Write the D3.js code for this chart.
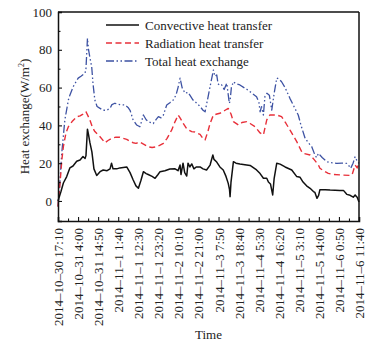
<!DOCTYPE html>
<html>
<head>
<meta charset="utf-8">
<script src="https://cdn.jsdelivr.net/npm/d3@7"></script>
<style>
  body { margin: 0; background: #fff; }
  svg text { font-family: "Liberation Serif", "Times New Roman", Tinos, "Noto Serif", "DejaVu Serif", serif; fill: #222; }
</style>
</head>
<body>
<svg id="chart"></svg>
<script>
// hours since 2014-10-30 17:10, values in W/m2
const convHours = [0,1.6,2.9,4.7,6.4,8.1,10.1,11.9,13.5,14.6,15.1,15.9,16.5,17.2,18.3,19.4,20.9,22.7,24.4,26.5,28.1,28.9,29.7,31.7,33.4,37.1,38.9,40.6,42.1,43.4,44.8,46.1,47.6,48.7,50.8,52.4,54.0,55.1,57.7,60.4,63.2,64.8,65.9,66.4,67.5,68.4,69.5,70.2,71.2,72.2,73.4,74.6,76.7,78.3,80.2,82.1,83.6,84.2,85.7,87.4,89.2,90.7,91.9,92.6,92.9,93.4,94.7,96.1,98.2,100.9,103.7,107.2,109.1,110.9,112.7,113.6,114.7,115.9,116.7,118.1,119.9,122.6,126.2,128.9,130.7,132.3,134.2,136.1,137.9,138.7,139.8,140.7,141.4,144.2,146.9,152.2,154.1,155.9,157.7,159.4,160.4,161.5,162.5];
const convValues = [0,5,9.5,12.9,17.5,18.5,21,21.7,23.5,22.5,24,38,35,31,26,17,13.5,15.5,16.4,16,17,20,17,17,17.5,18,15,11.1,8,6.7,11,15.5,14.5,14,13,12,14,15.5,16,16.9,17,16,19,14,20,15,13.2,20,18,19.6,17,18,18,17,16.4,19,24.3,22,20.6,18,16.4,13,9.3,6,2.3,10,20.8,20,19.6,19.2,18.8,16.4,14.5,12,12,10,9,3.2,12,20,19.5,18,16.4,12.9,12.5,10,8,6.7,5,4.5,1.4,3,6,6,5.8,5.6,5.6,3.5,3,2,3.2,2,-0.5];

const radHours = [0,1.1,2.1,2.9,4.3,5.6,7.6,10.1,11.9,13.5,15.1,16.2,17.2,18.6,19.9,22.7,25.4,27.0,29.0,31.3,33.4,37.1,38.9,40.6,42.1,44.2,46.4,48.7,50.8,53.2,55.1,56.9,58.8,61.4,63.2,64.9,65.9,67.6,69.6,72.2,73.9,76.7,78.3,79.4,81.0,82.1,83.9,85.8,87.4,90.2,91.9,93.4,94.7,97.4,99.3,101.9,103.7,106.4,109.1,110.9,112.7,114.4,118.1,120.7,123.1,125.2,128.9,131.6,132.4,136.1,138.2,140.6,141.4,144.2,145.9,148.7,152.2,157.7,158.8,160.4,161.5,162.5];
const radValues = [-3,9.5,22,28.7,36,39.3,42,44.6,45,46,47.2,45,42.9,39,36.7,34,30.8,32,33.2,33.8,33.7,32.6,31.5,30.8,30.5,31.2,30,28.7,28.3,28.7,29.5,30.5,33,37.6,42,45.5,44,41,38,36.7,36.5,35.2,33,32.3,37,41,45.5,46,46.4,48,49,46,42,40.2,41.5,42,41,39.3,36,35,42.9,45.5,45.5,44.6,41,37.6,31.4,26,25.2,24.3,22,19,17.3,15.5,14.6,14,13.8,13.5,14,19,17.5,20];

const totHours = [0,0.75,2.0,3.7,5.6,6.4,8.2,9.7,10.9,12.4,14.6,15.1,15.9,16.5,17.2,18.2,18.9,19.9,21.1,22.7,24.3,26.2,28.1,29.1,30.7,33.4,36.2,37.8,38.9,40.5,42.5,44.2,45.1,46.1,47.6,48.7,50.2,51.4,52.9,54.2,55.6,56.9,58.7,60.4,62.2,63.7,64.8,65.9,67.0,68.6,70.2,71.2,72.9,74.6,76.7,78.3,79.4,81.0,82.6,83.9,84.7,85.7,86.4,87.4,88.4,89.7,91.1,91.8,92.5,92.9,93.6,94.7,96.1,98.2,100.4,102.7,104.8,107.2,108.5,109.1,109.9,110.9,111.7,112.8,114.1,115.4,116.7,118.1,119.4,120.7,122.6,125.2,127.4,129.7,131.2,133.4,135.0,137.0,138.7,139.6,140.6,142.6,145.1,146.9,150.5,153.3,155.9,156.8,158.0,159.3,160.4,161.5,162.5];
const totValues = [-3,6,25,42.9,53.4,56,60.5,63,65,66,67.6,70,86,80,76,71,62,53.4,50,49,48,48,49,51,51.7,51,50.8,49.5,48,43,40.2,39.3,42,45.5,43,42,41.5,41,43,44.6,44,45.5,50.8,52,53.4,56,60,65,60,57,57.5,56,53.4,52,50,48,47.2,55,63,69.3,66,66.7,62,61,61.4,59,62.3,57,51.7,53,60,63.1,62,61.4,60,58.6,57,55.2,52,47.2,49.9,45.5,55.2,57,56,48.1,57,65,64.5,63.1,60,54.3,50,45.5,40,33.2,31,28.7,24.3,23,25.2,23,20.8,20.3,19.9,20,19.9,19,17.3,20,23.4,21,19.9];

const timeLabels = ["2014\u201310\u201330 17:10","2014\u201310\u201331 4:00","2014\u201310\u201331 14:50","2014\u201311\u20131 1:40","2014\u201311\u20131 12:30","2014\u201311\u20131 23:20","2014\u201311\u20132 10:10","2014\u201311\u20132 21:00","2014\u201311\u20133 7:50","2014\u201311\u20133 18:40","2014\u201311\u20134 5:30","2014\u201311\u20134 16:20","2014\u201311\u20135 3:10","2014\u201311\u20135 14:00","2014\u201311\u20136 0:50","2014\u201311\u20136 11:40"];
const yTicks = [0, 20, 40, 60, 80, 100];
const seriesNames = ["Convective heat transfer", "Radiation heat transfer", "Total heat exchange"];

const W = 378, H = 344;
const margin = {top: 12, right: 19, bottom: 123, left: 58};
const width = W - margin.left - margin.right;
const height = H - margin.top - margin.bottom;
const step = 650 / 60; // hours between labels
const nSteps = timeLabels.length - 1;

const svg = d3.select("#chart").attr("width", W).attr("height", H);
const g = svg.append("g").attr("transform", `translate(${margin.left},${margin.top})`);

const x = d3.scaleLinear().domain([0, step * nSteps]).range([0, width]);
const y = d3.scaleLinear().domain([-10.6, 100]).range([height, 0]);

const styles = [
  {color: "#111", dash: null, w: 1.5},
  {color: "#e8303a", dash: "6,3.5", w: 1.4},
  {color: "#3d52a3", dash: "8,2.5,1.5,2.5,1.5,2.5", w: 1.3}
];
const series = [
  {h: convHours, v: convValues},
  {h: radHours, v: radValues},
  {h: totHours, v: totValues}
];

const line = d3.line().x(d => x(d[0])).y(d => y(d[1]));

// draw total first so convective sits on top
[2, 1, 0].forEach(i => {
  const pts = series[i].h.map((h, k) => [h, series[i].v[k]]);
  g.append("path")
    .attr("d", line(pts))
    .attr("fill", "none")
    .attr("stroke", styles[i].color)
    .attr("stroke-width", styles[i].w)
    .attr("stroke-dasharray", styles[i].dash)
    .attr("stroke-linejoin", "round");
});

// axes, ticks inward
const xMajor = d3.range(nSteps + 1).map(k => k * step);
const xMinor = d3.range(nSteps).map(k => (k + 0.5) * step);

const xAxis = g.append("g").attr("transform", `translate(0,${height})`);
xAxis.call(d3.axisBottom(x).tickValues(xMajor).tickSize(-4).tickFormat(""));
xAxis.append("g").call(d3.axisBottom(x).tickValues(xMinor).tickSize(-2.5).tickFormat(""))
  .select(".domain").remove();
xAxis.selectAll("path, line").attr("stroke", "#111").attr("stroke-width", 1.1);
xAxis.select(".domain").attr("stroke-width", 1.5);

xAxis.selectAll(".lbl")
  .data(xMajor)
  .enter().append("text")
  .attr("class", "lbl")
  .attr("transform", d => `translate(${x(d) + 5},7) rotate(-90)`)
  .attr("text-anchor", "end")
  .attr("font-size", 13)
  .text((d, i) => timeLabels[i]);

const yAxis = g.append("g");
yAxis.call(d3.axisLeft(y).tickValues(yTicks).tickSize(-4).tickPadding(6).tickFormat(d3.format("d")));
yAxis.append("g").call(d3.axisLeft(y).tickValues([10, 30, 50, 70, 90]).tickSize(-2.5).tickFormat(""))
  .select(".domain").remove();
yAxis.selectAll("path, line").attr("stroke", "#111").attr("stroke-width", 1.1);
yAxis.select(".domain").attr("stroke-width", 1.5);
yAxis.selectAll("text").attr("font-size", 13);

// frame top and right
g.append("line").attr("x1", 0).attr("x2", width).attr("y1", 0).attr("y2", 0)
  .attr("stroke", "#111").attr("stroke-width", 1.5);
g.append("line").attr("x1", width).attr("x2", width).attr("y1", 0).attr("y2", height)
  .attr("stroke", "#111").attr("stroke-width", 1.5);

// titles
svg.append("text")
  .attr("x", margin.left + width / 2)
  .attr("y", 339)
  .attr("text-anchor", "middle")
  .attr("font-size", 13)
  .text("Time");

svg.append("text")
  .attr("transform", `translate(29,${margin.top + height / 2}) rotate(-90)`)
  .attr("text-anchor", "middle")
  .attr("font-size", 13)
  .html("Heat exchange(W/m<tspan dy='-5' font-size='8'>2</tspan><tspan dy='5'>)</tspan>");

// legend
const legend = g.append("g").attr("transform", "translate(48,13)");
seriesNames.forEach((name, i) => {
  const row = legend.append("g").attr("transform", `translate(0,${i * 18})`);
  row.append("line")
    .attr("x1", 0).attr("x2", 33).attr("y1", 0).attr("y2", 0)
    .attr("stroke", styles[i].color)
    .attr("stroke-width", styles[i].w + 0.2)
    .attr("stroke-dasharray", styles[i].dash);
  row.append("text")
    .attr("x", 39).attr("y", 4.5)
    .attr("font-size", 13)
    .text(name);
});
</script>
</body>
</html>
